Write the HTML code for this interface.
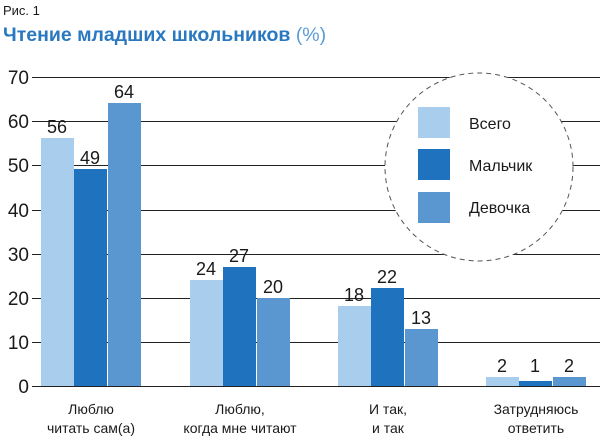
<!DOCTYPE html>
<html><head><meta charset="utf-8"><style>
body{margin:0;background:#fff;}
svg{display:block;}
text{font-family:"Liberation Sans Narrow","Liberation Sans",sans-serif;fill:#1a1a1a;}
</style></head><body>
<svg width="600" height="437" viewBox="0 0 600 437" xmlns="http://www.w3.org/2000/svg">
<text x="3" y="15" font-size="13" style="font-family:'Liberation Sans',sans-serif" fill="#555">Рис. 1</text>
<text x="3" y="41" font-size="19.5" font-weight="bold" style="font-family:'Liberation Sans',sans-serif;fill:#2a78c0">Чтение младших школьников <tspan font-weight="normal" style="fill:#5b9bd5">(%)</tspan></text>
<g stroke="#222" stroke-width="1">
<line x1="32" y1="77.5" x2="600" y2="77.5"/>
<line x1="32" y1="121.5" x2="600" y2="121.5"/>
<line x1="32" y1="165.5" x2="600" y2="165.5"/>
<line x1="32" y1="210.5" x2="600" y2="210.5"/>
<line x1="32" y1="254.5" x2="600" y2="254.5"/>
<line x1="32" y1="298.5" x2="600" y2="298.5"/>
<line x1="32" y1="342.5" x2="600" y2="342.5"/>
<line x1="32" y1="386.5" x2="600" y2="386.5"/>
</g>
<g font-size="19" text-anchor="end">
<text x="29" y="84">70</text><text x="29" y="128">60</text><text x="29" y="172">50</text>
<text x="29" y="217">40</text><text x="29" y="261">30</text><text x="29" y="305">20</text>
<text x="29" y="349">10</text><text x="29" y="393">0</text>
</g>
<circle cx="479" cy="167" r="94" fill="#fff" stroke="#555" stroke-dasharray="5,4"/>
<g>
<rect x="41" y="138" width="33" height="248" fill="#a9cdec"/>
<rect x="74" y="169" width="33" height="217" fill="#1f72bd"/>
<rect x="108" y="103" width="33" height="283" fill="#5a96d0"/>
<rect x="190" y="280" width="33" height="106" fill="#a9cdec"/>
<rect x="223" y="267" width="33" height="119" fill="#1f72bd"/>
<rect x="257" y="298" width="33" height="88" fill="#5a96d0"/>
<rect x="338" y="306" width="33" height="80" fill="#a9cdec"/>
<rect x="371" y="288" width="33" height="98" fill="#1f72bd"/>
<rect x="405" y="329" width="33" height="57" fill="#5a96d0"/>
<rect x="486" y="377" width="33" height="9" fill="#a9cdec"/>
<rect x="519" y="381" width="33" height="5" fill="#1f72bd"/>
<rect x="553" y="377" width="33" height="9" fill="#5a96d0"/>
</g>
<g font-size="18" text-anchor="middle">
<text x="57" y="133">56</text><text x="90" y="164">49</text><text x="124" y="98">64</text>
<text x="206" y="275">24</text><text x="239" y="262">27</text><text x="273" y="293">20</text>
<text x="354" y="301">18</text><text x="387" y="283">22</text><text x="421" y="324">13</text>
<text x="502" y="372">2</text><text x="535" y="372">1</text><text x="569" y="372">2</text>
</g>
<g font-size="14" text-anchor="middle">
<text x="91" y="414">Люблю</text><text x="91" y="433">читать сам(а)</text>
<text x="240" y="414">Люблю,</text><text x="240" y="433">когда мне читают</text>
<text x="388" y="414">И так,</text><text x="388" y="433">и так</text>
<text x="536" y="414">Затрудняюсь</text><text x="536" y="433">ответить</text>
</g>
<rect x="418" y="107" width="32" height="31" fill="#a9cdec"/>
<rect x="418" y="149" width="32" height="31" fill="#1f72bd"/>
<rect x="418" y="192" width="32" height="31" fill="#5a96d0"/>
<g font-size="16" style="font-family:'Liberation Sans',sans-serif">
<text x="469" y="129">Всего</text>
<text x="469" y="171">Мальчик</text>
<text x="469" y="213">Девочка</text>
</g>
</svg>
</body></html>
